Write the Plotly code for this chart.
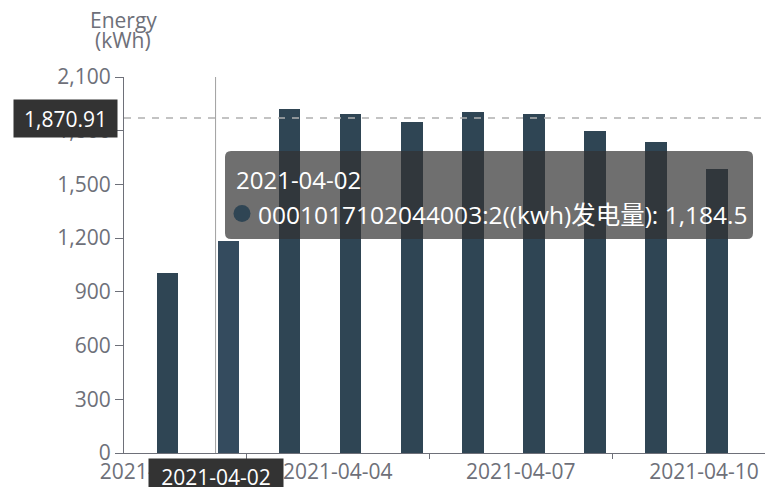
import plotly.graph_objects as go

# ---------------- data ----------------
dates = ["2021-04-01", "2021-04-02", "2021-04-03", "2021-04-04", "2021-04-05",
         "2021-04-06", "2021-04-07", "2021-04-08", "2021-04-09", "2021-04-10"]
energy = [1007, 1184.5, 1920, 1892, 1850, 1906, 1892, 1798, 1739, 1585]
series_name = "0001017102044003:2((kwh)发电量)"

y_ticks = [0, 300, 600, 900, 1200, 1500, 1800, 2100]
x_label_dates = ["2021-04-01", "2021-04-04", "2021-04-07", "2021-04-10"]
x_tick_marks = ["2021-04-02 12:00", "2021-04-05 12:00", "2021-04-08 12:00"]

hover_index = 1
hover_date = dates[hover_index]
hover_value = energy[hover_index]
pointer_y = 1870.91

# ---------------- layout geometry (pixels) ----------------
W, H = 766, 487
L, R, T, B = 124, 765, 77, 453
PW, PH = R - L, B - T
DAY = 86400000


def px(x):
    return (x - L) / PW


def py(y):
    return (B - y) / PH


BAR = "#2f4554"
TXT = "#6e7079"
FONT = "Open Sans, Noto Sans CJK SC, sans-serif"

colors = [BAR] * len(dates)
colors[hover_index] = "#344b5e"

fig = go.Figure()
fig.add_trace(go.Bar(
    x=dates, y=energy, name=series_name,
    marker=dict(color=colors, line=dict(width=0)),
    width=0.355 * DAY, offset=0.035 * DAY,
    hoverinfo="skip",
))

# tooltip rounded box
x0, x1, y0, y1 = 225, 753, 151, 239
r = 6
path = (f"M {px(x0 + r)},{py(y0)} L {px(x1 - r)},{py(y0)} "
        f"Q {px(x1)},{py(y0)} {px(x1)},{py(y0 + r)} "
        f"L {px(x1)},{py(y1 - r)} Q {px(x1)},{py(y1)} {px(x1 - r)},{py(y1)} "
        f"L {px(x0 + r)},{py(y1)} Q {px(x0)},{py(y1)} {px(x0)},{py(y1 - r)} "
        f"L {px(x0)},{py(y0 + r)} Q {px(x0)},{py(y0)} {px(x0 + r)},{py(y0)} Z")

shapes = [
    dict(type="line", xref="paper", yref="y", x0=0, x1=1, y0=pointer_y, y1=pointer_y,
         line=dict(color="#b0b0b0", width=1.5, dash="7px,7px")),
    dict(type="line", xref="x", yref="paper", x0=hover_date, x1=hover_date, y0=0, y1=1,
         line=dict(color="#a0a0a0", width=1)),
    dict(type="path", xref="paper", yref="paper", path=path,
         fillcolor="rgba(50,50,50,0.7)", line=dict(width=0)),
    dict(type="circle", xref="paper", yref="paper",
         x0=px(242 - 8.5), x1=px(242 + 8.5), y0=py(213.5 + 8.5), y1=py(213.5 - 8.5),
         fillcolor=BAR, line=dict(width=0)),
]

annotations = [
    # axis title
    dict(text="Energy", xref="paper", yref="paper", x=px(123), y=py(20),
         xanchor="center", yanchor="middle", showarrow=False,
         font=dict(family=FONT, size=21, color=TXT)),
    dict(text="(kWh)", xref="paper", yref="paper", x=px(123), y=py(40),
         xanchor="center", yanchor="middle", showarrow=False,
         font=dict(family=FONT, size=21, color=TXT)),
    # y pointer label
    dict(text=f"{pointer_y:,.2f}", xref="paper", yref="y", x=px(65.5), y=pointer_y,
         xanchor="center", yanchor="middle", showarrow=False,
         bgcolor="#333333", borderpad=4, width=95, height=29,
         font=dict(family=FONT, size=21, color="white")),
    # x pointer label
    dict(text=hover_date, xref="x", yref="paper", x=hover_date, y=py(476),
         xanchor="center", yanchor="middle", showarrow=False,
         bgcolor="#333333", borderpad=4, width=126, height=27,
         font=dict(family=FONT, size=21, color="white")),
    # tooltip text
    dict(text=hover_date, xref="paper", yref="paper", x=px(234), y=py(179),
         xanchor="left", yanchor="middle", showarrow=False,
         font=dict(family=FONT, size=24, color="white")),
    dict(text=f"{series_name}: {hover_value:,}", xref="paper", yref="paper",
         x=px(256), y=py(214), xanchor="left", yanchor="middle", showarrow=False,
         font=dict(family=FONT, size=24.5, color="white")),
]

fig.update_layout(
    width=W, height=H,
    margin=dict(l=L, r=W - R, t=T, b=H - B, pad=0),
    paper_bgcolor="white", plot_bgcolor="white",
    font=dict(family=FONT, size=21, color=TXT),
    showlegend=False,
    shapes=shapes, annotations=annotations,
    bargap=0,
)
fig.update_xaxes(
    type="date", range=["2021-03-31 12:00", "2021-04-11 00:00"],
    tickmode="array", tickvals=x_label_dates, tickformat="%Y-%m-%d",
    ticks="", showgrid=False, zeroline=False,
    showline=True, linecolor=TXT, linewidth=1,
    minor=dict(tickmode="array", tickvals=x_tick_marks, ticks="outside",
               ticklen=5, tickcolor=TXT, tickwidth=1, showgrid=False),
    tickfont=dict(family=FONT, size=21, color=TXT),
)
fig.update_yaxes(
    range=[0, 2100], tickmode="array", tickvals=y_ticks, tickformat=",d",
    ticks="outside", ticklen=8, tickcolor=TXT, tickwidth=1,
    showgrid=False, zeroline=False,
    showline=True, linecolor=TXT, linewidth=1,
    tickfont=dict(family=FONT, size=21, color=TXT),
)

fig.write_html(
    "out.html",
    config={"displayModeBar": False},
    post_script="document.body.style.margin='0';document.body.style.overflow='hidden';",
)
